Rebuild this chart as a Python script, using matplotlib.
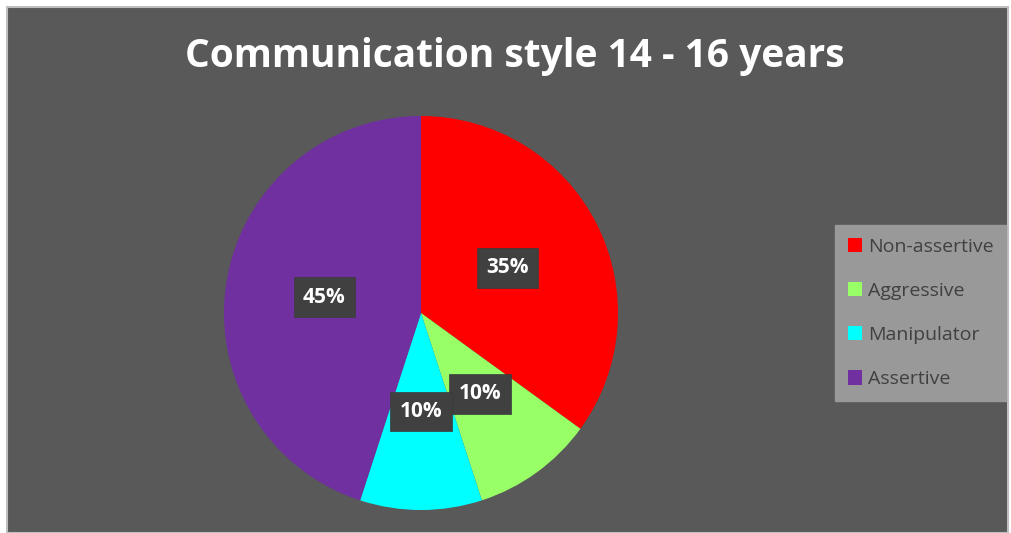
import matplotlib.pyplot as plt
from matplotlib.patches import Rectangle

categories = ['Non-assertive', 'Aggressive', 'Manipulator', 'Assertive']
values = [35, 10, 10, 45]
colors = ['#ff0000', '#99ff66', '#00ffff', '#7030a0']
# label positions in data units (pie radius = 1)
label_xy = [(0.44, 0.23), (0.30, -0.41), (0.0, -0.50), (-0.49, 0.08)]

W, H = 1012, 533
fig = plt.figure(figsize=(W / 100, H / 100), dpi=100)
fig.patch.set_facecolor('white')

# chart area
fig.patches.append(Rectangle((7 / W, 0), (1008 - 7) / W, (H - 7) / H, transform=fig.transFigure,
                             facecolor='#595959', edgecolor='#bfbfbf', lw=1.5, zorder=-5))

fig.text(515 / W, 1 - 57 / H, 'Communication style 14 - 16 years', color='white',
         fontsize=28, fontweight='bold', family='Open Sans', ha='center', va='center')

cx, cy, r = 421, 313, 197
ax = fig.add_axes([(cx - r) / W, 1 - (cy + r) / H, 2 * r / W, 2 * r / H])
ax.set_zorder(2)
wedges, _ = ax.pie(values, colors=colors, startangle=90, counterclock=False, radius=1)
ax.set_xlim(-1, 1)
ax.set_ylim(-1, 1)
ax.set_aspect('equal')
ax.axis('off')

for v, (x, y) in zip(values, label_xy):
    ax.text(x, y, f'{v}%', color='white', fontsize=15, fontweight='bold', family='Open Sans',
            ha='center', va='center',
            bbox=dict(boxstyle='square,pad=0.45', facecolor='#404040', edgecolor='#3a3a3a', lw=0.5))

leg = fig.legend(wedges, categories, loc='upper left', bbox_to_anchor=(835 / W, 1 - 225 / H),
                 frameon=True, fancybox=False, facecolor='#999999', edgecolor='#999999', framealpha=1,
                 prop={'family': 'Open Sans', 'size': 14}, labelcolor='#404040',
                 handlelength=0.75, handleheight=0.75, handletextpad=0.3, labelspacing=1.35,
                 borderpad=0.65, borderaxespad=0)
leg.set_zorder(3)

fig.savefig('out.png', dpi=100, facecolor=fig.get_facecolor())
